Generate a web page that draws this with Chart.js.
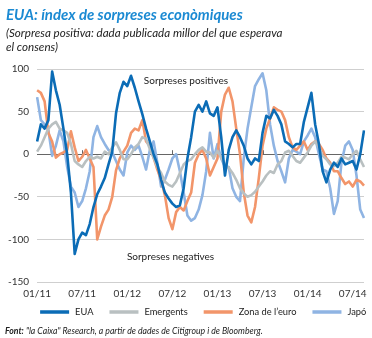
<!DOCTYPE html>
<html>
<head>
<meta charset="utf-8">
<script src="https://cdn.jsdelivr.net/npm/chart.js@4.4.1/dist/chart.umd.min.js"></script>
<style>
  html, body { margin: 0; padding: 0; background: #fff; }
  body { width: 372px; height: 338px; position: relative; overflow: hidden; font-family: Lato, sans-serif; }
  #title { position: absolute; left: 6px; top: 5px; font: italic bold 15px Lato, sans-serif; color: #1b8ad3; white-space: nowrap; }
  #subtitle { position: absolute; left: 6px; top: 26px; font: italic 11.6px/14px Lato, sans-serif; color: #222; white-space: nowrap; }
  #source { position: absolute; left: 5px; top: 325px; font: italic 8.7px Lato, sans-serif; color: #222; white-space: nowrap; }
  #chart-box { position: absolute; left: 0; top: 0; width: 372px; height: 338px; }
</style>
</head>
<body>
<div id="chart-box"><canvas id="surpriseChart"></canvas></div>
<div id="title">EUA: índex de sorpreses econòmiques</div>
<div id="subtitle">(Sorpresa positiva: dada publicada millor del que esperava<br>el consens)</div>
<div id="source"><b>Font:</b> "la Caixa" Research, a partir de dades de Citigroup i de Bloomberg.</div>
<script>
// Tick labels (one every 6 months, data is read every half month)
const tickLabels = ['01/11', '07/11', '01/12', '07/12', '01/13', '07/13', '01/14', '07/14'];

// Series values
const euaValues = [
    15, 35, 30, 40, 97, 75, 58, 30, 0, -45,
    -117, -100, -92, -95, -82, -62, -47, -38, -28, -12,
    3, 48, 72, 85, 80, 92, 78, 62, 47, 30,
    15, 0, -12, -30, -45, -52, -58, -62, -60, -40,
    -5, 20, 50, 58, 50, 62, 48, 45, 55, 20,
    -25, 5, 20, 28, 20, 10, -5, -12, -5, -8,
    25, 45, 42, 52, 45, 35, 15, 12, 8, 12,
    12, 38, 55, 72, 35, 12, -20, -33, -18, -10,
    -15, -5, -12, -10, -8, -18, 0, 28
];
const emergentValues = [
    3, 10, 20, 30, 35, 38, 30, 28, 25, 12,
    -8, -12, -15, -8, -3, -5, -3, -5, 3, 0,
    8, 14, 5, -6, -6, 0, 8, 12, 20, 18,
    6, -4, -15, -22, -32, -36, -38, -32, -22, -12,
    -8, -6, 0, 5, 8, 3, 2, -4, 4, -4,
    -12, -16, -22, -30, -40, -46, -50, -48, -44, -38,
    -32, -25, -20, -22, -12, -8, 2, 4, -2, -8,
    -10, -4, 2, 10, 15, 8, -2, -6, -12, -14,
    -10, -3, -4, -6, 0, 4, -6, -15
];
const euroValues = [
    75, 72, 62, 25, 15, -4, 0, 2, 5, 27,
    8, -8, -3, 5, -5, -15, -100, -85, -72, -65,
    -50, -19, -5, 3, 10, 25, 30, 28, 40, 15,
    10, -4, -18, -30, -48, -75, -88, -68, -62, -66,
    -55, -45, -10, 0, 5, -5, -25, -15, -5, 50,
    70, 78, 62, 30, 0, -45, -72, -80, -62, -28,
    10, 30, 42, 55, 52, 50, 40, 20, 8, 5,
    10, 15, 5, 12, 15, 12, 5, -5, -10, -20,
    -20, -28, -35, -32, -38, -30, -32, -37
];
const japanValues = [
    67, 40, 35, 28, -2, 10, 28, 15, -15, -38,
    -45, -62, -55, -40, -20, 20, 33, 20, 12, 5,
    2, -8, -18, -25, 2, 10, 5, 10, -3, -18,
    5, 15, -10, -38, -30, -18, -5, 0, -20, -45,
    -72, -78, -75, -65, -48, -20, 25, -5, 12, -5,
    -15, -15, -40, -50, -55, -5, 30, 55, 80, 88,
    95, 75, 35, 10, -8, -20, -33, -5, 5, 3,
    0, 15, 22, 30, 20, 0, -18, -20, -40, -70,
    -55, -10, 10, 15, 5, -25, -65, -75
];

const seriesNames = ['EUA', 'Emergents', 'Zona de l\u2019euro', 'Japó'];
const seriesColors = ['#0b6cb6', '#b9c0c1', '#f2956a', '#8fb4e3'];
const seriesValues = [euaValues, emergentValues, euroValues, japanValues];

// Text notes inside the plot, placed in data units (x = half-month index)
const noteTexts = ['Sorpreses positives', 'Sorpreses negatives'];
const noteX = [28.4, 23.9];
const noteY = [86.5, -120.6];

const categories = euaValues.map((_, i) => i % 12 === 0 ? tickLabels[i / 12] : '');

const FONT = 'Lato, sans-serif';

// Draws notes, small ticks on the zero line, and the legend row
const overlayPlugin = {
    id: 'overlay',
    beforeDatasetsDraw(chart) {
        const { ctx, scales: { x, y } } = chart;
        const y0 = y.getPixelForValue(0);
        ctx.save();
        ctx.strokeStyle = '#666';
        ctx.lineWidth = 1;
        categories.forEach((lab, i) => {
            if (!lab || i === 0) return;
            const px = Math.round(x.getPixelForValue(i)) + 0.5;
            ctx.beginPath();
            ctx.moveTo(px, y0);
            ctx.lineTo(px, y0 - 4);
            ctx.stroke();
        });
        ctx.restore();
    },
    afterDraw(chart) {
        const { ctx, chartArea, scales: { x, y } } = chart;
        ctx.save();
        ctx.fillStyle = '#222';
        ctx.font = `10px ${FONT}`;
        ctx.textBaseline = 'middle';
        ctx.textAlign = 'left';
        noteTexts.forEach((t, i) => {
            ctx.fillText(t, x.getPixelForValue(noteX[i]), y.getPixelForValue(noteY[i]));
        });

        // legend
        ctx.font = `9.3px ${FONT}`;
        const sample = 29, textGap = 6, itemGap = 16;
        const widths = chart.data.datasets.map(ds => sample + textGap + ctx.measureText(ds.label).width);
        let cx = chartArea.left + 3;
        const ly = chartArea.bottom + 30;
        chart.data.datasets.forEach((ds, i) => {
            ctx.fillStyle = ds.borderColor;
            ctx.fillRect(cx, ly - 1.75, sample, 3.5);
            ctx.fillStyle = '#222';
            ctx.fillText(ds.label, cx + sample + textGap, ly);
            cx += widths[i] + itemGap;
        });
        ctx.restore();
    }
};

new Chart(document.getElementById('surpriseChart'), {
    type: 'line',
    data: {
        labels: categories,
        datasets: seriesValues.map((vals, i) => ({
            label: seriesNames[i],
            data: vals,
            borderColor: seriesColors[i],
            backgroundColor: seriesColors[i],
            borderWidth: 2.6,
            pointRadius: 0,
            tension: 0,
            fill: false,
            borderJoinStyle: 'round'
        }))
    },
    options: {
        responsive: true,
        maintainAspectRatio: false,
        animation: false,
        layout: { padding: { top: 69, left: 0, right: 8, bottom: 32 } },
        plugins: {
            legend: { display: false },
            tooltip: { enabled: false }
        },
        scales: {
            x: {
                grid: { display: false, drawTicks: false },
                border: { display: false },
                ticks: {
                    autoSkip: false,
                    maxRotation: 0,
                    minRotation: 0,
                    padding: 6,
                    color: '#333',
                    font: { family: FONT, size: 10 }
                }
            },
            y: {
                min: -150,
                max: 100,
                border: { display: false },
                grid: {
                    drawTicks: false,
                    color: c => c.tick.value === 0 ? '#666' : '#cfcfcf',
                    lineWidth: 1
                },
                ticks: {
                    stepSize: 50,
                    padding: 8,
                    color: '#333',
                    font: { family: FONT, size: 10 }
                }
            }
        }
    },
    plugins: [overlayPlugin]
});
</script>
</body>
</html>
